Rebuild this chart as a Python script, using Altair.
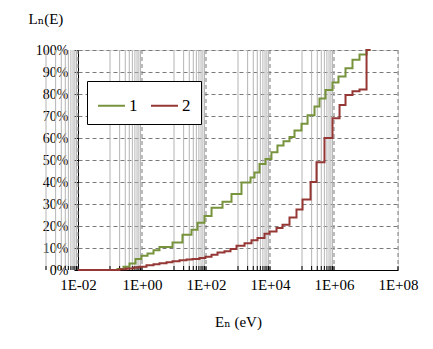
import altair as alt
import pandas as pd

# Series 1 (green): energy (eV) where each step starts, cumulative fraction
e1 = [0.01, 0.171, 0.264, 0.407, 0.626, 0.965, 1.49, 2.29, 3.52, 8.98, 18.4, 35.2, 54.2, 89.8,
      149, 328, 627, 1285, 2460, 3280, 4700, 7230, 1.11e4, 1.71e4, 2.64e4, 4.07e4,
      5.83e4, 9.64e4, 1.49e5, 2.46e5, 3.52e5, 5.42e5, 8.98e5, 1.38e6, 2.29e6, 3.78e6,
      6.27e6, 1.04e7, 1.38e7]
p1 = [0, 0.004, 0.015, 0.03, 0.05, 0.065, 0.075, 0.09, 0.104, 0.125, 0.16, 0.183, 0.215, 0.245,
      0.283, 0.31, 0.345, 0.398, 0.42, 0.443, 0.482, 0.505, 0.535, 0.566, 0.585, 0.604,
      0.634, 0.665, 0.703, 0.743, 0.78, 0.818, 0.852, 0.88, 0.917, 0.956,
      0.979, 1.0, 1.0]

# Series 2 (dark red)
e2 = [0.01, 0.198, 0.328, 0.542, 0.835, 1.38, 2.29, 3.52, 5.83, 8.98, 14.9, 24.6, 37.8, 62.7,
      96.4, 149, 229, 378, 583, 898, 1600, 2640, 4070, 6730, 9640, 1.6e4, 2.46e4, 4.07e4,
      6.73e4, 1.04e5, 1.85e5, 2.84e5, 5.05e5, 8.98e5, 1.49e6, 2.29e6, 3.78e6, 6.27e6,
      1.04e7, 1.38e7]
p2 = [0, 0.003, 0.007, 0.011, 0.015, 0.022, 0.026, 0.031, 0.035, 0.04, 0.044, 0.048, 0.05, 0.054,
      0.06, 0.069, 0.079, 0.085, 0.095, 0.11, 0.122, 0.135, 0.145, 0.165, 0.175, 0.191, 0.206, 0.239,
      0.275, 0.32, 0.40, 0.49, 0.60, 0.69, 0.75, 0.795, 0.813, 0.82,
      1.0, 1.0]

series_names = ["1", "2"]
series_colors = ["#77933C", "#953735"]

x_major = [1e-2, 1e0, 1e2, 1e4, 1e6, 1e8]
minor_mult = [1, 2, 3, 4, 5, 6, 7, 8, 9]
x_minor = [m * 10 ** (d - 1) for d in [-2, 0, 2, 4, 6] for m in minor_mult]
y_ticks = [i / 10 for i in range(11)]

FONT = "Liberation Serif, DejaVu Serif, serif"
W, H = 320, 220

df = pd.concat([
    pd.DataFrame({"E": e1, "P": p1, "series": series_names[0]}),
    pd.DataFrame({"E": e2, "P": p2, "series": series_names[1]}),
])

xscale = alt.Scale(type="log", domain=[1e-2, 1e8], nice=False)
yscale = alt.Scale(domain=[0, 1], nice=False)

label_expr = ("'1E' + (round(log(datum.value)/LN10) < 0 ? '-' : '+') + "
              "(abs(round(log(datum.value)/LN10)) < 10 ? '0' : '') + abs(round(log(datum.value)/LN10))")

minor_rules = alt.Chart(pd.DataFrame({"E": x_minor})).mark_rule(
    color="#b4b4b4", strokeWidth=1
).encode(x=alt.X("E:Q", scale=xscale))

major_rules = alt.Chart(pd.DataFrame({"E": x_major})).mark_rule(
    color="#7a7a7a", strokeWidth=1, strokeDash=[4, 3]
).encode(x=alt.X("E:Q", scale=xscale))

tick_df = pd.DataFrame({"E": x_minor + x_major})
bottom_ticks = alt.Chart(tick_df).mark_rule(color="black", strokeWidth=1).encode(
    x=alt.X("E:Q", scale=xscale), y=alt.value(H - 4), y2=alt.value(H)
)

lines = alt.Chart(df).mark_line(interpolate="step-after", strokeWidth=2).encode(
    x=alt.X("E:Q", scale=xscale,
            axis=alt.Axis(values=x_major, labelExpr=label_expr, grid=False, ticks=False,
                          labelPadding=7, labelFont=FONT, labelFontSize=15, labelColor="black",
                          domainColor="black", labelFlush=False, labelOverlap=False,
                          title="Eₙ (eV)", titleFont=FONT, titleFontSize=15, titleFontWeight="normal",
                          titleColor="black", titleY=51, titleBaseline="middle")),
    y=alt.Y("P:Q", scale=yscale,
            axis=alt.Axis(values=y_ticks, format=".0%", grid=True, gridDash=[4, 3],
                          gridColor="#7a7a7a", tickSize=4, tickColor="black", domainColor="black",
                          labelPadding=6, labelFont=FONT, labelFontSize=14, labelColor="black",
                          title="Lₙ(E)", titleAngle=0, titleAlign="left", titleBaseline="middle",
                          titleX=-50, titleY=-32, titleFont=FONT, titleFontSize=15,
                          titleFontWeight="normal", titleColor="black")),
    color=alt.Color("series:N", scale=alt.Scale(domain=series_names, range=series_colors),
                    legend=alt.Legend(orient="none", legendX=9, legendY=31, direction="horizontal",
                                      title=None, fillColor="white", strokeColor="black",
                                      padding=10, symbolType="stroke", symbolSize=729,
                                      symbolStrokeWidth=2, labelFont=FONT, labelFontSize=17,
                                      labelColor="black", columnPadding=9, symbolOffset=0,
                                      labelOffset=3)),
    detail="series:N",
)

chart = alt.layer(minor_rules, major_rules, bottom_ticks, lines).properties(
    width=W, height=H,
    autosize=alt.AutoSizeParams(type="none"),
    padding={"left": 78, "top": 50, "right": 35, "bottom": 79},
).configure_view(stroke=None).configure(background="white", font=FONT)

chart.save("out.html", embed_options={"renderer": "svg", "actions": False})
